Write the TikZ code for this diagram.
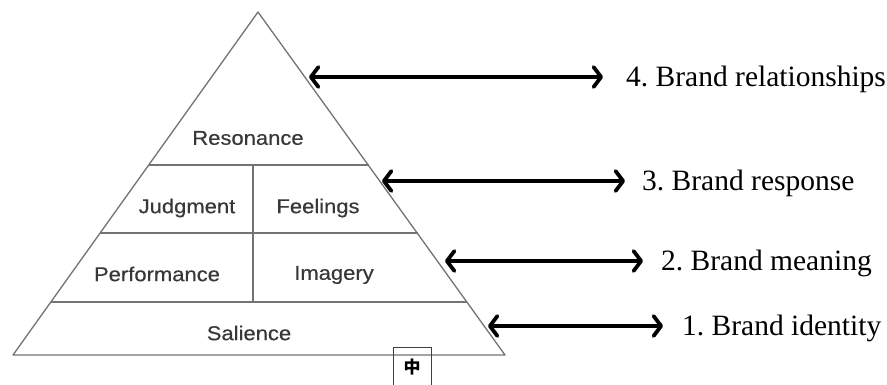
\documentclass[tikz,border=0pt]{standalone}
\usepackage{fontspec}
\setmainfont{Liberation Serif}
\newfontfamily\pyrfont[FakeStretch=1.1,FakeBold=0.4]{Liberation Sans}
\newfontfamily\cjkfont{Noto Sans CJK SC}
\usetikzlibrary{arrows.meta}
\tikzset{
  pyr/.style={draw=black!55, line width=1.3pt, line join=round},
  layertext/.style={font=\pyrfont\fontsize{20}{23}\selectfont, text=black!78, inner sep=0pt},
  levellabel/.style={font=\frenchspacing\fontsize{29.5}{33}\selectfont, text=black, inner sep=0pt, anchor=base west},
  dblarrow/.style={line width=3.8pt, line cap=round, {Straight Barb[length=7.5pt,width=20pt,line cap=round,line join=round]}-{Straight Barb[length=7.5pt,width=20pt,line cap=round,line join=round]}}
}
\begin{document}
\begin{tikzpicture}[x=1pt,y=-1pt]
\useasboundingbox (0,0) rectangle (887,385);
\clip (0,0) rectangle (887,385);
% pyramid
\coordinate (apex) at (258,12);
\coordinate (bl) at (13,355);
\coordinate (br) at (505,355);
\draw[pyr] (apex) -- (bl) -- (br) -- cycle;
\draw[pyr] (148.7,165) -- (368.5,165);
\draw[pyr] (100.1,233) -- (417.6,233);
\draw[pyr] (50.9,302) -- (467.4,302);
\draw[pyr] (253,165) -- (253,302);
% layer texts
\node[layertext] (res) at (248,138) {Resonance};
\node[layertext] (jud) at (187,208) {Judgment};
\node[layertext] (fee) at (318,208) {Feelings};
\node[layertext] (per) at (157,274) {Performance};
\node[layertext] (ima) at (334,275) {Imagery};
\node[layertext] (sal) at (249,333) {Salience};
% labels
\node[levellabel] (t4) at (626,87) {4. Brand relationships};
\node[levellabel] (t3) at (642,190) {3. Brand response};
\node[levellabel] (t2) at (661,270) {2. Brand meaning};
\node[levellabel] (t1) at (682,335) {1. Brand identity};
% arrows
\coordinate (a4) at (309,77);
\coordinate (a3) at (382,181);
\coordinate (a2) at (445,261);
\coordinate (a1) at (488,326);
\draw[dblarrow, shorten >=23pt] (a4) -- (a4 -| t4.west);
\draw[dblarrow, shorten >=17pt] (a3) -- (a3 -| t3.west);
\draw[dblarrow, shorten >=18pt] (a2) -- (a2 -| t2.west);
\draw[dblarrow, shorten >=19pt] (a1) -- (a1 -| t1.west);
% small box
\node[draw=black!75, line width=1.2pt, minimum width=38pt, minimum height=44pt, anchor=north west, inner sep=0pt] (box) at (393,347) {};
\node[font=\cjkfont\bfseries\fontsize{17}{19}\selectfont, inner sep=0pt] (zh) at (412,367) {中};
\end{tikzpicture}
\end{document}
